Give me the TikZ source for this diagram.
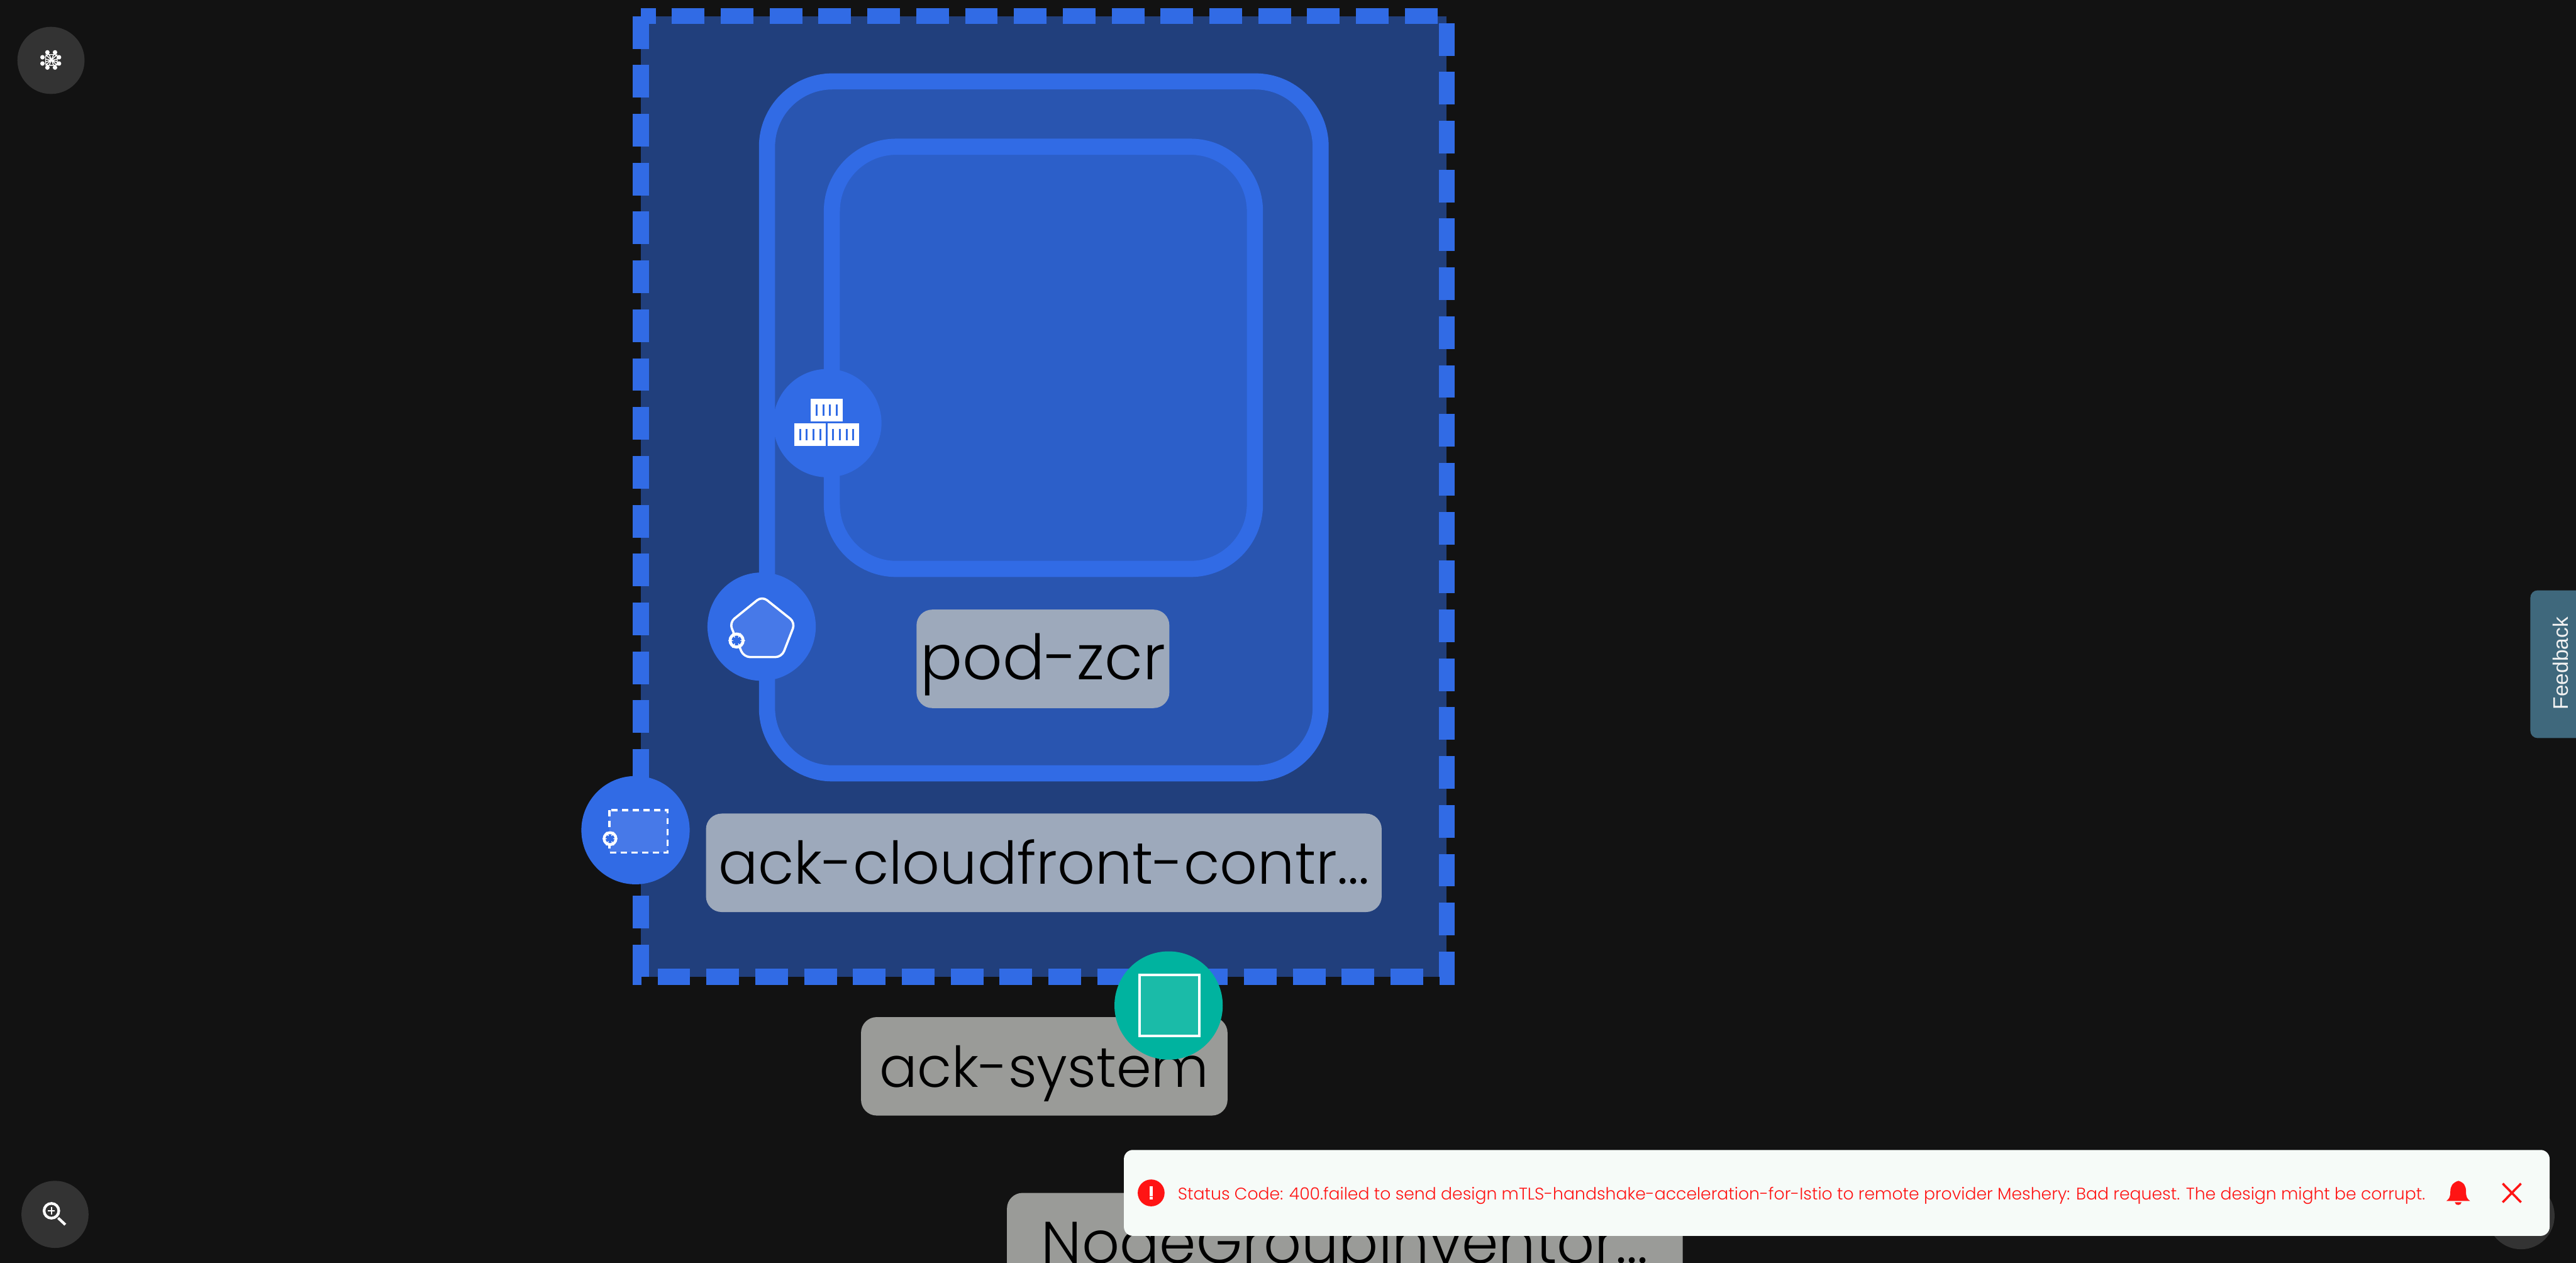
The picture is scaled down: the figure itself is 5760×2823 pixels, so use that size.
\documentclass[tikz,border=0pt]{standalone}
\usepackage{fontspec}
\setmainfont[UprightFont=* Light]{Poppins}
\newfontfamily\feedbackfont{Liberation Sans}
\definecolor{canvasbg}{HTML}{121212}
\definecolor{meshblue}{HTML}{316BE5}
\definecolor{nsfill}{HTML}{213F7C}
\definecolor{deployfill}{HTML}{2955B0}
\definecolor{podfill}{HTML}{2C5FC9}
\definecolor{iconfill}{HTML}{4779E8}
\definecolor{tealnode}{HTML}{00B39F}
\definecolor{tealfill}{HTML}{1ABBA8}
\definecolor{labelblue}{HTML}{9DA9BB}
\definecolor{labelgray}{HTML}{9A9B98}
\definecolor{toastbg}{HTML}{F6FBF8}
\definecolor{toastred}{HTML}{FF1414}
\definecolor{toolgray}{HTML}{333333}
\definecolor{feedbackbg}{HTML}{3F687C}
\tikzset{
    groupline/.style={draw=meshblue,line width=0.36cm},
    badge/.style={circle,fill=meshblue,minimum size=2.42cm,inner sep=0pt},
    toolbtn/.style={circle,fill=toolgray,minimum size=1.5cm,inner sep=0pt},
    labelbox/.style={rounded corners=0.35cm,inner sep=0pt,text=black,text height=1.2cm,text depth=0.26cm,minimum height=2.2cm,font=\fontsize{37.5}{45}\selectfont},
    k8sdot/.style={circle,fill=white,inner sep=0pt},
}
\begin{document}
\begin{tikzpicture}[x=0.01cm,y=-0.01cm]
\useasboundingbox (0,0) rectangle (5760,2823);
\clip (0,0) rectangle (5760,2823);
\fill[canvasbg] (0,0) rectangle (5760,2823);

% groups
\fill[nsfill] (1433,36) rectangle (3235,2184);
\draw[meshblue,line width=0.36cm,dash pattern=on 0.73cm off 0.362cm] (1433,36) -- (1433,2184) -- (3235,2184) -- (3235,36) -- cycle;
\draw[groupline,fill=deployfill,rounded corners=1.46cm] (1715,182) rectangle (2953,1729);
\draw[groupline,fill=podfill,rounded corners=1.44cm] (1860,328) rectangle (2806,1272);

% labels
\node[labelbox,fill=labelblue,minimum width=5.65cm,font=\fontsize{39.7}{45}\selectfont] (podlabel) at (2332,1473) {pod-zcr};
\node[labelbox,fill=labelblue,minimum width=15.1cm,font=\fontsize{37.4}{45}\selectfont] (nslabel) at (2334,1929) {ack-cloudfront-contr...};
\node[labelbox,fill=labelgray,minimum width=8.19cm,font=\fontsize{35.8}{45}\selectfont] (syslabel) at (2335,2384) {ack-system};
\node[labelbox,fill=labelgray,minimum width=15.1cm] (nodegrouplabel) at (3007,2777) {NodeGroupInventor...};

% container badge
\node[badge] (containerbadge) at (1850,946) {};
\foreach \bx/\by in {1813/892, 1776/947, 1850/947} {
    \fill[white] (\bx,\by) rectangle ++(71,50);
    \foreach \sx in {13,28,43,58} {
        \fill[meshblue] (\bx+\sx-2,\by+12) rectangle ++(4,26);
    }
}

% pod badge
\node[badge] (podbadge) at (1703,1401) {};
\draw[white,fill=iconfill,line width=0.05cm,rounded corners=0.14cm] (1704,1333) -- (1778,1392) -- (1748,1469) -- (1663,1469) -- (1631,1392) -- cycle;
\node[k8sdot,minimum size=0.36cm] (podwheel) at (1647,1432) {};
\fill[meshblue] (podwheel) circle (11);
\foreach \a in {0,60,...,300} {
    \draw[white,line width=0.02cm] (podwheel) -- ++(\a:8);
}

% namespace badge
\node[badge] (nsbadge) at (1421,1856) {};
\draw[white,fill=iconfill,line width=0.05cm,dash pattern=on 0.14cm off 0.1cm] (1363,1811) rectangle (1493,1906);
\node[k8sdot,minimum size=0.33cm] (nswheel) at (1364,1875) {};
\fill[meshblue] (nswheel) circle (10);
\foreach \a in {0,60,...,300} {
    \draw[white,line width=0.02cm] (nswheel) -- ++(\a:7);
}

% teal badge
\node[circle,fill=tealnode,minimum size=2.42cm,inner sep=0pt] (tealbadge) at (2613,2248) {};
\draw[white,fill=tealfill,line width=0.06cm] (2548,2180) rectangle (2682,2316);

% buttons
\node[toolbtn] (meshbtn) at (114,135) {};
\foreach \px/\py in {106/117, 123/117, 95/128, 132/128, 95/142, 132/142, 106/151, 123/151} {
    \fill[white] (\px,\py) circle (5);
}
\draw[white,line width=0.02cm,rounded corners=0.05cm] (102,122) rectangle (128,146);
\draw[white,line width=0.02cm] (102,122) -- (128,146) (102,146) -- (128,122) (110,122) -- (120,146) (120,122) -- (110,146) (102,132) -- (128,138) (102,138) -- (128,132);

\node[toolbtn] (zoombtn) at (123,2715) {};
\draw[white,line width=0.06cm] (115,2707) circle (16.5);
\draw[white,line width=0.03cm] (107,2707) -- (123,2707) (115,2699) -- (115,2715);
\draw[white,line width=0.06cm] (130,2723) -- (146,2738);

\node[toolbtn] (helpbtn) at (5637,2718) {};

% feedback tab
\node[fill=feedbackbg,rounded corners=0.16cm,minimum width=2.2cm,minimum height=3.3cm,inner sep=0pt] (feedbacktab) at (5768,1485) {};
\node[rotate=90,text=white!95!black,inner sep=0pt,font=\feedbackfont\fontsize{13.4}{16}\selectfont] (feedbacktext) at (5725,1483) {Feedback};

% toast
\node[fill=toastbg,rounded corners=0.2cm,minimum width=31.86cm,minimum height=1.92cm,inner sep=0pt] (toast) at (4107,2667) {};
\node[circle,fill=toastred,minimum size=0.6cm,inner sep=0pt] (erroricon) at (2574,2667) {};
\fill[white] (2571,2652) rectangle (2577,2674);
\fill[white] (2571,2676) rectangle (2577,2682);
\node[anchor=base west,text=toastred,inner sep=0pt,font=\fontsize{10.67}{14}\selectfont] (toasttext) at (2633,2682) {Status Code: 400.failed to send design mTLS-handshake-acceleration-for-Istio to remote provider Meshery: Bad request. The design might be corrupt.};
\fill[toastred] (5497,2640) .. controls (5510,2644) and (5514,2652) .. (5514,2664) .. controls (5514,2675) and (5516,2680) .. (5523,2685) -- (5470,2685) .. controls (5477,2680) and (5479,2675) .. (5479,2664) .. controls (5479,2652) and (5484,2644) .. (5497,2640) -- cycle;
\fill[toastred] (5489,2688) -- (5504,2688) .. controls (5503,2696) and (5490,2696) .. (5489,2688) -- cycle;
\draw[toastred,line width=0.05cm] (5596,2646) -- (5637,2688) (5637,2646) -- (5596,2688);
\end{tikzpicture}
\end{document}
